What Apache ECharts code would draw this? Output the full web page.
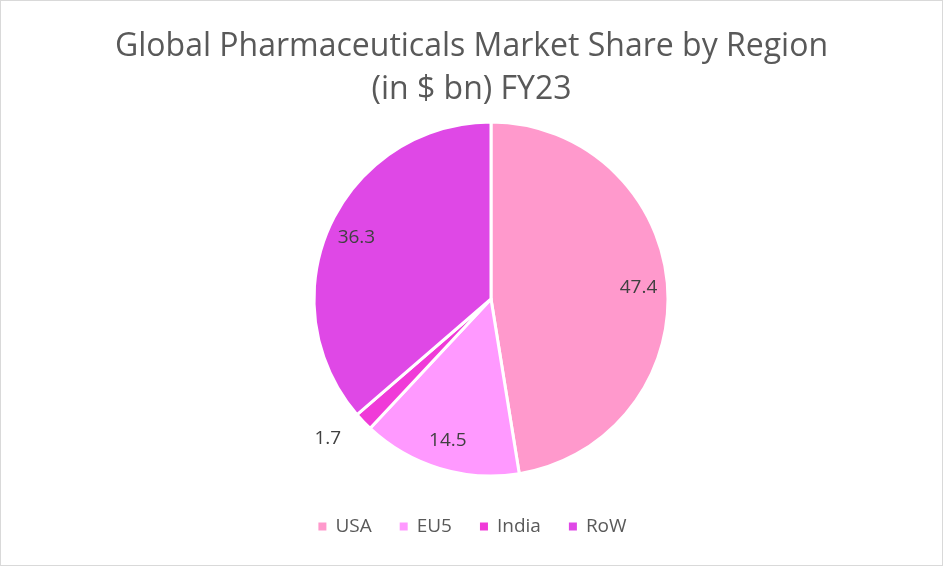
<!DOCTYPE html>
<html>
<head>
  <meta charset="UTF-8">
  <title>Global Pharmaceuticals Market Share by Region</title>
  <script src="https://cdn.jsdelivr.net/npm/echarts@6/dist/echarts.min.js"></script>
  <style>
    html, body { margin: 0; padding: 0; background: #fff; }
    #chart { width: 943px; height: 566px; box-sizing: border-box; border: 1px solid #d9d9d9; }
  </style>
</head>
<body>
<div id="chart"></div>
<script type="text/javascript">
  var regions = ['USA', 'EU5', 'India', 'RoW'];
  var shares = [47.4, 14.5, 1.7, 36.3];
  var colors = ['#ff99cc', '#ff99ff', '#f03ad8', '#df48e6'];

  var pieData = regions.map(function (name, i) {
    return { name: name, value: shares[i], itemStyle: { color: colors[i] } };
  });

  // transparent ring on top, only to place the labels like Excel does
  var labelData = regions.map(function (name, i) {
    var d = { name: name, value: shares[i] };
    if (name === 'India') {
      d.label = { position: 'outside' };
      d.labelLine = { show: false, length: 24, length2: 0 };
    }
    return d;
  });

  var chart = echarts.init(document.getElementById('chart'));
  chart.setOption({
    color: colors,
    animation: false,
    title: {
      text: 'Global Pharmaceuticals Market Share by Region\n(in $ bn) FY23',
      left: 'center',
      top: 19,
      textStyle: {
        fontFamily: 'Open Sans',
        fontSize: 32,
        fontWeight: 'normal',
        color: '#595959',
        lineHeight: 43
      }
    },
    legend: {
      bottom: 24,
      left: 'center',
      icon: 'rect',
      itemWidth: 10,
      itemHeight: 10,
      itemGap: 26,
      data: regions,
      textStyle: { fontFamily: 'Open Sans', fontSize: 19, color: '#595959', padding: [0, 0, 0, 3] }
    },
    series: [
      {
        type: 'pie',
        center: [490, 298],
        radius: [0, 177],
        startAngle: 90,
        clockwise: true,
        data: pieData,
        label: { show: false },
        labelLine: { show: false },
        itemStyle: { borderColor: '#ffffff', borderWidth: 3 },
        emphasis: { disabled: true }
      },
      {
        type: 'pie',
        center: [490, 298],
        radius: [113, 177],
        startAngle: 90,
        clockwise: true,
        silent: true,
        data: labelData,
        itemStyle: { color: 'rgba(0,0,0,0)' },
        label: {
          show: true,
          position: 'inside',
          formatter: '{c}',
          fontFamily: 'Open Sans',
          fontSize: 19,
          color: '#404040'
        },
        labelLine: { show: false },
        emphasis: { disabled: true }
      }
    ]
  });
</script>
</body>
</html>
